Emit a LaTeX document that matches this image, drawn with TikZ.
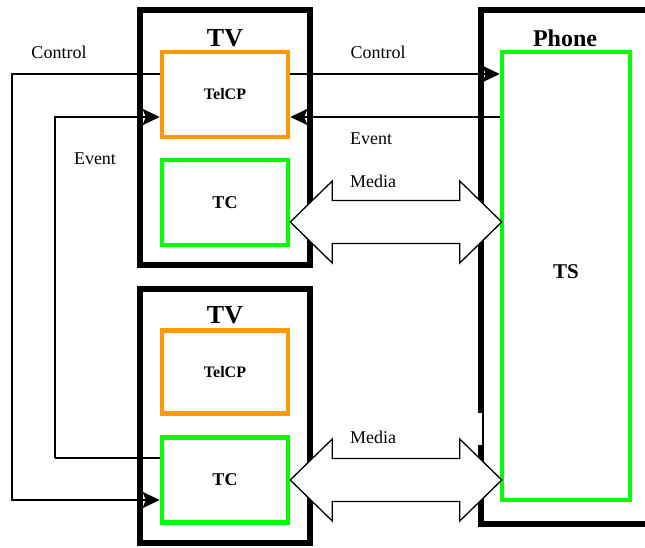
\documentclass[tikz,border=0pt]{standalone}
\usepackage{fontspec}
\setmainfont{Liberation Serif}
\usetikzlibrary{arrows.meta,calc}
\definecolor{tvorange}{RGB}{255,153,0}
\definecolor{tsgreen}{RGB}{0,255,0}
\tikzset{
  outerbox/.style={draw, line width=6pt, minimum width=170pt, inner sep=0pt},
  telcpbox/.style={draw=tvorange, line width=4.5pt, minimum width=126pt, minimum height=85pt, inner sep=0pt, font=\bfseries\fontsize{16}{16}\selectfont},
  tcbox/.style={draw=tsgreen, line width=4.5pt, minimum width=126pt, minimum height=85pt, inner sep=0pt, font=\bfseries\fontsize{18}{18}\selectfont},
  title/.style={inner sep=0pt, font=\bfseries\fontsize{26}{26}\selectfont},
  lbl/.style={inner sep=0pt, font=\fontsize{18}{18}\selectfont},
  conn/.style={line width=2.5pt, -{Stealth[length=17pt,width=16pt,inset=3pt]}},
  thinconn/.style={line width=1.5pt},
  media/.style={draw, fill=white, line width=1.3pt, line join=miter}
}
\newcommand\drawmedia[2]{\draw[media] let \p1=(#1), \p2=(#2) in
  (\p1) -- (\x1+42pt,\y1+41pt) -- (\x1+42pt,\y1+21.5pt) -- (\x2-42pt,\y1+21.5pt)
  -- (\x2-42pt,\y1+41pt) -- (\x2,\y1) -- (\x2-42pt,\y1-41pt) -- (\x2-42pt,\y1-21.5pt)
  -- (\x1+42pt,\y1-21.5pt) -- (\x1+42pt,\y1-41pt) -- cycle;}
\begin{document}
\begin{tikzpicture}[x=1pt,y=-1pt]
\useasboundingbox (0,0) rectangle (645,548);
% TV boxes
\node[outerbox, minimum height=255pt] (tv1) at (225,137.5) {};
\node[outerbox, minimum height=254pt] (tv2) at (225,416) {};
\node[title] (tv1t) at (225,38) {TV};
\node[title] (tv2t) at (225,315) {TV};
% Phone box (right side runs off the picture)
\node[draw, line width=6pt, minimum width=220pt, minimum height=514pt, inner sep=0pt] (phone) at (591,267) {};
\fill[white] (476,413) rectangle (481.6,445);
\node[inner sep=0pt, font=\bfseries\fontsize{24}{24}\selectfont] (phonet) at (565,38) {Phone};
% inner boxes
\node[telcpbox] (telcp1) at (225,94.5) {TelCP};
\node[tcbox] (tc1) at (225,202.5) {TC};
\node[telcpbox, minimum height=83pt] (telcp2) at (225,372) {TelCP};
\node[tcbox] (tc2) at (225,480) {TC};
\node[draw=tsgreen, line width=4.5pt, minimum width=128pt, minimum height=448pt, inner sep=0pt] (ts) at (566,276) {};
\node[inner sep=0pt, font=\bfseries\fontsize{21}{21}\selectfont] (tst) at (566,272) {TS};
% helper coordinates
\coordinate (yc) at (0,74);
\coordinate (ye) at (0,117);
\coordinate (yb) at (0,500);
\coordinate (ye2) at (0,458);
\coordinate (xl) at (12,0);
\coordinate (xe) at (55,0);
\coordinate (m1) at (0,222);
\coordinate (m2) at (0,480);
% control / event connectors
\draw[conn] (telcp1.east |- yc) -- (ts.west |- yc);
\draw[conn] (ts.west |- ye) -- (telcp1.east |- ye);
\draw[conn] (telcp1.west |- yc) -| (xl |- yb) -- (tc2.west |- yb);
\draw[thinconn] (tc2.west |- ye2) -- (xe |- ye2);
\draw[conn] (xe |- ye2) |- (telcp1.west |- ye);
% labels
\node[lbl] (lc1) at (59,52) {Control};
\node[lbl] (lc2) at (378,52) {Control};
\node[lbl] (le1) at (371,139) {Event};
\node[lbl] (le2) at (95,159) {Event};
\node[lbl] (lm1) at (373,181) {Media};
\node[lbl] (lm2) at (373,437) {Media};
% media arrows
\coordinate (m1l) at (tc1.east |- m1);
\coordinate (m1r) at ([xshift=2pt]ts.west |- m1);
\coordinate (m2l) at (tc2.east |- m2);
\coordinate (m2r) at ([xshift=2pt]ts.west |- m2);
\drawmedia{m1l}{m1r}
\drawmedia{m2l}{m2r}
\end{tikzpicture}
\end{document}
